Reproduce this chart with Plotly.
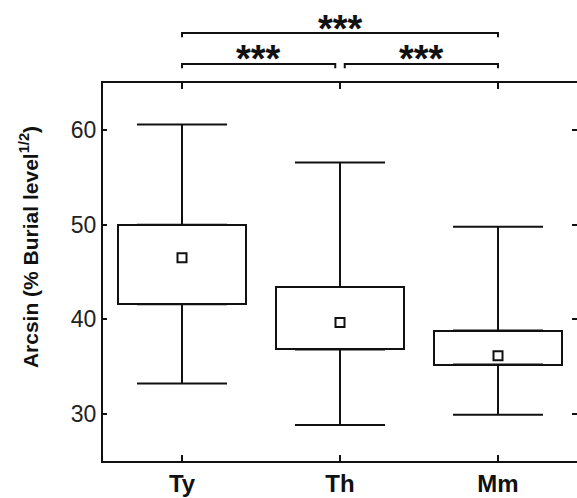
import plotly.graph_objects as go

categories = ["Ty", "Th", "Mm"]
q1 = [41.6, 36.8, 35.2]
q3 = [50.0, 43.4, 38.8]
lower_whisker = [33.2, 28.8, 29.9]
upper_whisker = [60.6, 56.6, 49.8]
means = [46.5, 39.65, 36.15]
y_ticks = [30, 40, 50, 60]
comparisons = [("Ty", "Th", 0), ("Th", "Mm", 0), ("Ty", "Mm", 1)]
sig_label = "***"

INK = "#111111"
FONT = "Liberation Sans, Arial, Helvetica, sans-serif"

fig = go.Figure()
# boxes (interquartile range)
fig.add_trace(go.Bar(
    x=categories, y=[b - a for a, b in zip(q1, q3)], base=q1, width=0.81,
    marker=dict(color="white", line=dict(color=INK, width=2)),
    showlegend=False, hoverinfo="skip",
))
# upper whiskers
fig.add_trace(go.Scatter(
    x=categories, y=q3, mode="markers", marker=dict(size=1, opacity=0),
    error_y=dict(type="data", symmetric=False,
                 array=[u - b for u, b in zip(upper_whisker, q3)],
                 arrayminus=[0] * len(categories),
                 width=45, thickness=2, color=INK),
    showlegend=False, hoverinfo="skip",
))
# lower whiskers
fig.add_trace(go.Scatter(
    x=categories, y=q1, mode="markers", marker=dict(size=1, opacity=0),
    error_y=dict(type="data", symmetric=False,
                 array=[0] * len(categories),
                 arrayminus=[a - l for a, l in zip(q1, lower_whisker)],
                 width=45, thickness=2, color=INK),
    showlegend=False, hoverinfo="skip",
))
# means
fig.add_trace(go.Scatter(
    x=categories, y=means, mode="markers", showlegend=False,
    marker=dict(symbol="square-open", size=9, color=INK, line=dict(width=2, color=INK)),
))
# right-side inward ticks (no spine visible)
fig.add_trace(go.Scatter(x=[categories[0]], y=[None], yaxis="y2", showlegend=False, hoverinfo="skip"))

idx = {c: i for i, c in enumerate(categories)}
level_y = [1.050, 1.132]
level_star = [1.0635, 1.143]
gap = 0.03
shapes = []
annotations = []
for a, b, lvl in comparisons:
    xa, xb = idx[a], idx[b]
    if lvl == 0:
        if xa > 0:
            xa += gap
        if xb < len(categories) - 1:
            xb -= gap
    y = level_y[lvl]
    shapes.append(dict(type="path", xref="x", yref="paper",
                       path=f"M {xa},{y-0.011} L {xa},{y} L {xb},{y} L {xb},{y-0.011}",
                       line=dict(color=INK, width=2)))
    annotations.append(dict(text=f"<b>{sig_label}</b>", xref="x", yref="paper",
                            x=(xa + xb) / 2, y=level_star[lvl], showarrow=False,
                            xanchor="center", yanchor="middle",
                            font=dict(family=FONT, size=38, color=INK)))

annotations.append(dict(text="<b>Arcsin (% Burial level<sup>1/2</sup>)</b>",
                        xref="paper", yref="paper", x=-0.156, y=0.566,
                        textangle=-90, showarrow=False, xanchor="center", yanchor="middle",
                        font=dict(family=FONT, size=21, color=INK)))

fig.update_layout(
    width=577, height=498,
    margin=dict(l=103, r=0, t=83, b=37, autoexpand=False),
    paper_bgcolor="white", plot_bgcolor="white",
    shapes=shapes, annotations=annotations, bargap=0,
    xaxis=dict(type="category", range=[-0.5, 2.5], showgrid=False, zeroline=False,
               showline=True, linecolor=INK, linewidth=2, mirror="ticks",
               ticks="inside", ticklen=6, tickwidth=2, tickcolor=INK,
               automargin=False,
               tickfont=dict(family=FONT, size=24, color=INK),
               tickvals=categories, ticktext=[f"<b>{c}</b>" for c in categories]),
    yaxis=dict(range=[25, 65], tickvals=y_ticks, showgrid=False, zeroline=False,
               showline=True, linecolor=INK, linewidth=2, mirror=False,
               ticks="inside", ticklen=4, tickwidth=2, tickcolor=INK,
               automargin=False,
               tickfont=dict(family=FONT, size=23, color="#222222")),
    yaxis2=dict(range=[25, 65], tickvals=y_ticks, overlaying="y", side="right",
                showgrid=False, zeroline=False, showline=False,
                ticks="inside", ticklen=5, tickwidth=2, tickcolor=INK,
                showticklabels=False, automargin=False),
)

fig.write_html("out.html")
